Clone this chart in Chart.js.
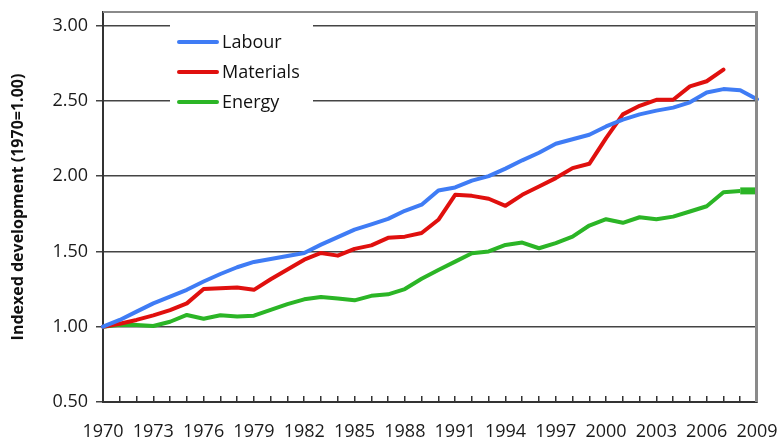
<!DOCTYPE html>
<html>
<head>
<meta charset="utf-8">
<script src="https://cdn.jsdelivr.net/npm/chart.js"></script>
<style>
body { margin: 0; background: #fff; }
#wrap { width: 779px; height: 443px; }
</style>
</head>
<body>
<div id="wrap"><canvas id="chart"></canvas></div>
<script>
// values, index 1970 = 1.00
years = ['1970', '1971', '1972', '1973', '1974', '1975', '1976', '1977', '1978', '1979',
    '1980', '1981', '1982', '1983', '1984', '1985', '1986', '1987', '1988', '1989',
    '1990', '1991', '1992', '1993', '1994', '1995', '1996', '1997', '1998', '1999',
    '2000', '2001', '2002', '2003', '2004', '2005', '2006', '2007', '2008', '2009'];
labour = [1.00, 1.045, 1.10, 1.155, 1.20, 1.245, 1.30, 1.35, 1.395, 1.43,
    1.45, 1.47, 1.49, 1.545, 1.595, 1.645, 1.68, 1.716, 1.77, 1.81,
    1.905, 1.925, 1.97, 2.00, 2.05, 2.105, 2.155, 2.215, 2.245, 2.275,
    2.33, 2.375, 2.41, 2.435, 2.455, 2.49, 2.555, 2.578, 2.57, 2.51];
materials = [1.00, 1.02, 1.045, 1.075, 1.11, 1.155, 1.25, 1.255, 1.26, 1.245,
    1.315, 1.38, 1.445, 1.49, 1.472, 1.517, 1.54, 1.59, 1.598, 1.622,
    1.71, 1.876, 1.869, 1.85, 1.803, 1.876, 1.931, 1.987, 2.053, 2.082,
    2.253, 2.41, 2.467, 2.507, 2.507, 2.596, 2.63, 2.707];
energy = [1.00, 1.013, 1.011, 1.005, 1.033, 1.078, 1.053, 1.076, 1.068, 1.073,
    1.112, 1.15, 1.182, 1.198, 1.188, 1.175, 1.205, 1.215, 1.25, 1.318,
    1.377, 1.432, 1.488, 1.50, 1.543, 1.559, 1.521, 1.555, 1.598, 1.672,
    1.714, 1.69, 1.727, 1.714, 1.731, 1.765, 1.80, 1.893, 1.902, 1.902];
yTicks = [0.5, 1.0, 1.5, 2.0, 2.5, 3.0];

const FONT = '"Open Sans", "DejaVu Sans", sans-serif';

// white box with the series keys, sitting inside the plot
const legendBox = {
    id: 'legendBox',
    beforeDatasetsDraw(chart) {
        const ctx = chart.ctx, area = chart.chartArea;
        const x = area.left + 67, y = area.top + 10;
        ctx.save();
        ctx.fillStyle = '#fff';
        ctx.fillRect(x, y, 143, 88);
        ctx.font = '18px ' + FONT;
        ctx.textBaseline = 'middle';
        chart.data.datasets.forEach((ds, i) => {
            const ly = y + 20 + i * 30;
            ctx.strokeStyle = ds.borderColor;
            ctx.lineWidth = 4;
            ctx.lineCap = 'round';
            ctx.beginPath();
            ctx.moveTo(x + 9, ly);
            ctx.lineTo(x + 47, ly);
            ctx.stroke();
            ctx.fillStyle = '#111';
            ctx.fillText(ds.label, x + 52, ly + 1);
        });
        ctx.restore();
    }
};

// grey frame on top and right of the plot
const frame = {
    id: 'frame',
    afterDatasetsDraw(chart) {
        const ctx = chart.ctx, a = chart.chartArea;
        ctx.save();
        ctx.strokeStyle = '#8a8a8a';
        ctx.lineWidth = 2;
        ctx.beginPath();
        ctx.moveTo(a.left, a.top);
        ctx.lineTo(a.right - 0.5, a.top);
        ctx.stroke();
        ctx.lineWidth = 3;
        ctx.beginPath();
        ctx.moveTo(a.right - 0.5, a.top - 1);
        ctx.lineTo(a.right - 0.5, a.bottom);
        ctx.stroke();
        ctx.restore();
    }
};

function setup() {
    let config = {
        type: 'line',
        data: {
            labels: years,
            datasets: [{
                label: 'Labour',
                data: labour,
                borderColor: '#3f7cf5',
            }, {
                label: 'Materials',
                data: materials,
                borderColor: '#e0100e',
            }, {
                label: 'Energy',
                data: energy,
                borderColor: '#2bb526',
                borderCapStyle: 'butt',
                segment: {
                    borderWidth: c => c.p1DataIndex === energy.length - 1 ? 7 : 4
                }
            }]
        },
        options: {
            responsive: true,
            maintainAspectRatio: false,
            animation: false,
            layout: { padding: { top: 12, right: 22, bottom: 0, left: 0 } },
            elements: {
                point: { radius: 0 },
                line: { borderWidth: 4, tension: 0, fill: false, borderJoinStyle: 'round', borderCapStyle: 'round' }
            },
            plugins: {
                legend: { display: false },
                tooltip: { enabled: false }
            },
            scales: {
                x: {
                    offset: false,
                    afterFit: s => {
                        s.height = 41;
                        s.paddingLeft = 0;
                        s.paddingRight = 0;
                    },
                    ticks: {
                        autoSkip: false,
                        maxRotation: 0,
                        callback: (v, i) => i % 3 === 0 ? years[i] : '',
                        font: { family: FONT, size: 18 },
                        color: '#1a1a1a',
                        padding: 25
                    },
                    grid: { drawOnChartArea: false, drawTicks: true, tickLength: -6, color: '#333', lineWidth: 1.5 },
                    border: { color: '#333', width: 2 }
                },
                y: {
                    min: 0.5,
                    max: 3.09,
                    afterBuildTicks: s => { s.ticks = yTicks.map(v => ({ value: v })); },
                    afterFit: s => {
                        s.width = 103;
                        s.paddingTop = 0;
                        s.paddingBottom = 0;
                    },
                    ticks: {
                        callback: v => v.toFixed(2),
                        font: { family: FONT, size: 18 },
                        color: '#1a1a1a',
                        padding: 8
                    },
                    grid: { color: '#444', lineWidth: 1.5, tickLength: 7 },
                    border: { color: '#333', width: 2 },
                    title: {
                        display: true,
                        text: 'Indexed development (1970=1.00)',
                        font: { family: FONT, size: 16, weight: 'bold' },
                        color: '#111',
                        padding: { top: 9, bottom: 0 }
                    }
                }
            }
        },
        plugins: [legendBox, frame]
    };
    new Chart(document.getElementById('chart'), config);
}

window.onload = setup
</script>
</body>
</html>
